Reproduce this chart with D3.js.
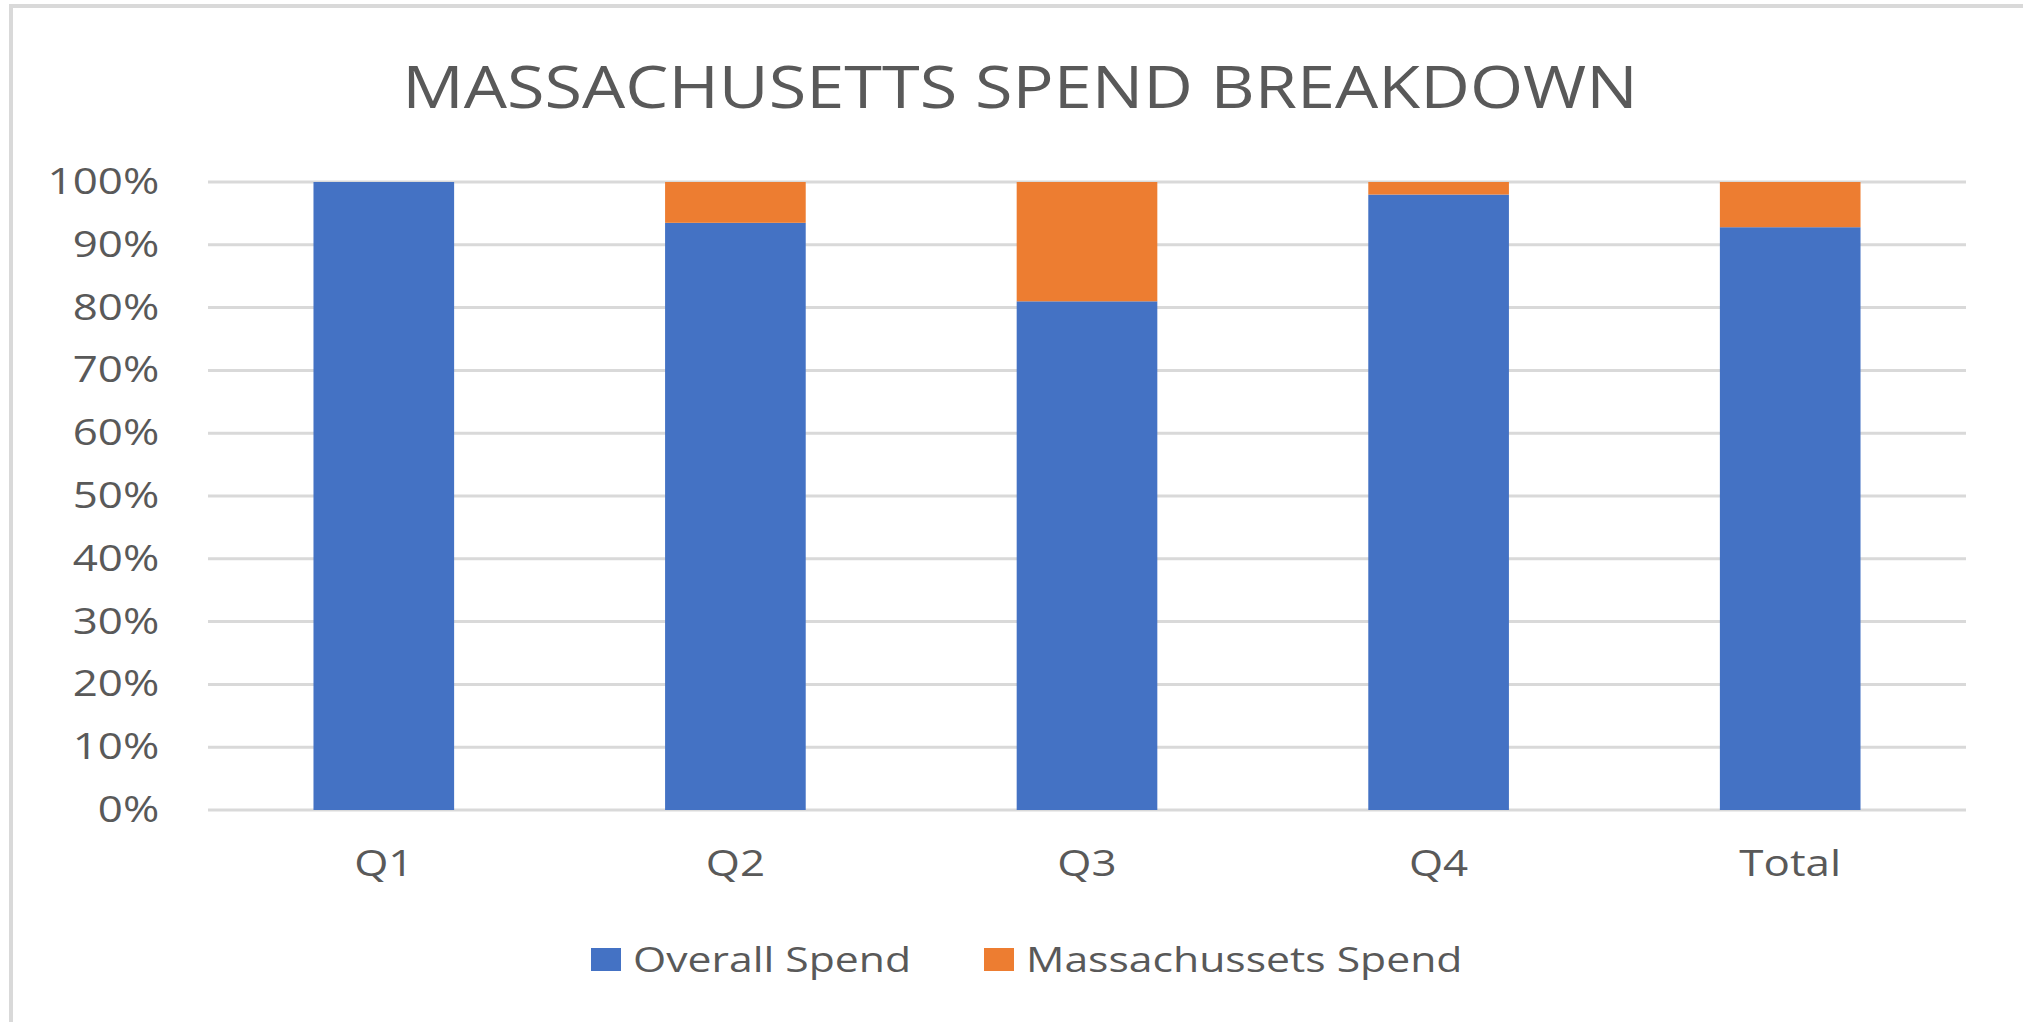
<!DOCTYPE html>
<html>
<head>
<meta charset="utf-8">
<script src="https://cdn.jsdelivr.net/npm/d3@7"></script>
<style>
  html, body { margin: 0; padding: 0; background: #fff; }
  .chart text { font-family: "Open Sans", sans-serif; fill: #595959; }
</style>
</head>
<body>
<div class="chart"></div>
<script>
// 데이터 (100% 누적 막대)
const categories = ["Q1", "Q2", "Q3", "Q4", "Total"];
const overallSpend = [100, 93.5, 81, 98, 92.8];
const massSpend = [0, 6.5, 19, 2, 7.2];
const seriesNames = ["Overall Spend", "Massachussets Spend"];
const yTicks = [0, 10, 20, 30, 40, 50, 60, 70, 80, 90, 100];

const width = 2023;
const height = 1022;
const marginTop = 182;
const marginBottom = 212;
const marginLeft = 208;
const marginRight = 57;

const colors = ["#4472C4", "#ED7D31"];
// 원본 그림은 글자가 가로로 조금 늘어나 있음
const stretch = 1.22;

const svg = d3.select(".chart").append("svg")
  .attr("width", width)
  .attr("height", height);

// 바깥 테두리 (위, 왼쪽만 보임)
svg.append("rect")
  .attr("x", 11).attr("y", 6)
  .attr("width", width + 20).attr("height", height + 20)
  .attr("fill", "none")
  .attr("stroke", "#d9d9d9")
  .attr("stroke-width", 4);

const rows = categories.map((c, i) => ({
  cat: c,
  overall: overallSpend[i],
  mass: massSpend[i]
}));

const stack = d3.stack().keys(["overall", "mass"]);
const stacked = stack(rows);

const x = d3.scaleBand()
  .domain(categories)
  .range([marginLeft, width - marginRight])
  .paddingInner(0.6)
  .paddingOuter(0.3);

const y = d3.scaleLinear()
  .domain([0, 100])
  .range([height - marginBottom, marginTop]);

// 제목
svg.append("g")
  .attr("transform", `translate(1020,108) scale(1.18,1)`)
  .append("text")
  .attr("text-anchor", "middle")
  .style("font-size", "58px")
  .text("MASSACHUSETTS SPEND BREAKDOWN");

// 격자선
svg.append("g")
  .selectAll("line")
  .data(yTicks)
  .join("line")
    .attr("x1", marginLeft)
    .attr("x2", width - marginRight)
    .attr("y1", d => y(d))
    .attr("y2", d => y(d))
    .attr("stroke", "#d9d9d9")
    .attr("stroke-width", 3);

// 막대
svg.append("g")
  .selectAll("g")
  .data(stacked)
  .join("g")
    .attr("fill", (d, i) => colors[i])
  .selectAll("rect")
  .data(d => d)
  .join("rect")
    .attr("x", d => x(d.data.cat))
    .attr("width", x.bandwidth())
    .attr("y", d => y(d[1]))
    .attr("height", d => y(d[0]) - y(d[1]));

// y축
const yAxis = d3.axisLeft(y)
  .tickValues(yTicks)
  .tickFormat(d => d + "%")
  .tickSize(0)
  .tickPadding(40);

svg.append("g")
  .attr("transform", `translate(${marginLeft},0)`)
  .call(yAxis)
  .call(g => g.select(".domain").remove())
  .selectAll("text")
    .style("font-size", "36px")
    .attr("fill", "#595959")
    .attr("transform", `scale(${stretch},1)`);

// x축
const xAxis = d3.axisBottom(x).tickSize(0).tickPadding(40);

svg.append("g")
  .attr("transform", `translate(0,${height - marginBottom})`)
  .call(xAxis)
  .call(g => g.select(".domain").remove())
  .selectAll("text")
    .style("font-size", "36px")
    .attr("fill", "#595959")
    .attr("transform", `scale(${stretch},1)`);

// 범례
const legendPos = [591, 984];
const legend = svg.append("g")
  .selectAll("g")
  .data(seriesNames)
  .join("g")
    .attr("transform", (d, i) => `translate(${legendPos[i]},948)`);

legend.append("rect")
  .attr("width", 30)
  .attr("height", 23)
  .attr("fill", (d, i) => colors[i]);

legend.append("g")
  .attr("transform", `translate(42,24) scale(${stretch},1)`)
  .append("text")
  .style("font-size", "35px")
  .text(d => d);
</script>
</body>
</html>
